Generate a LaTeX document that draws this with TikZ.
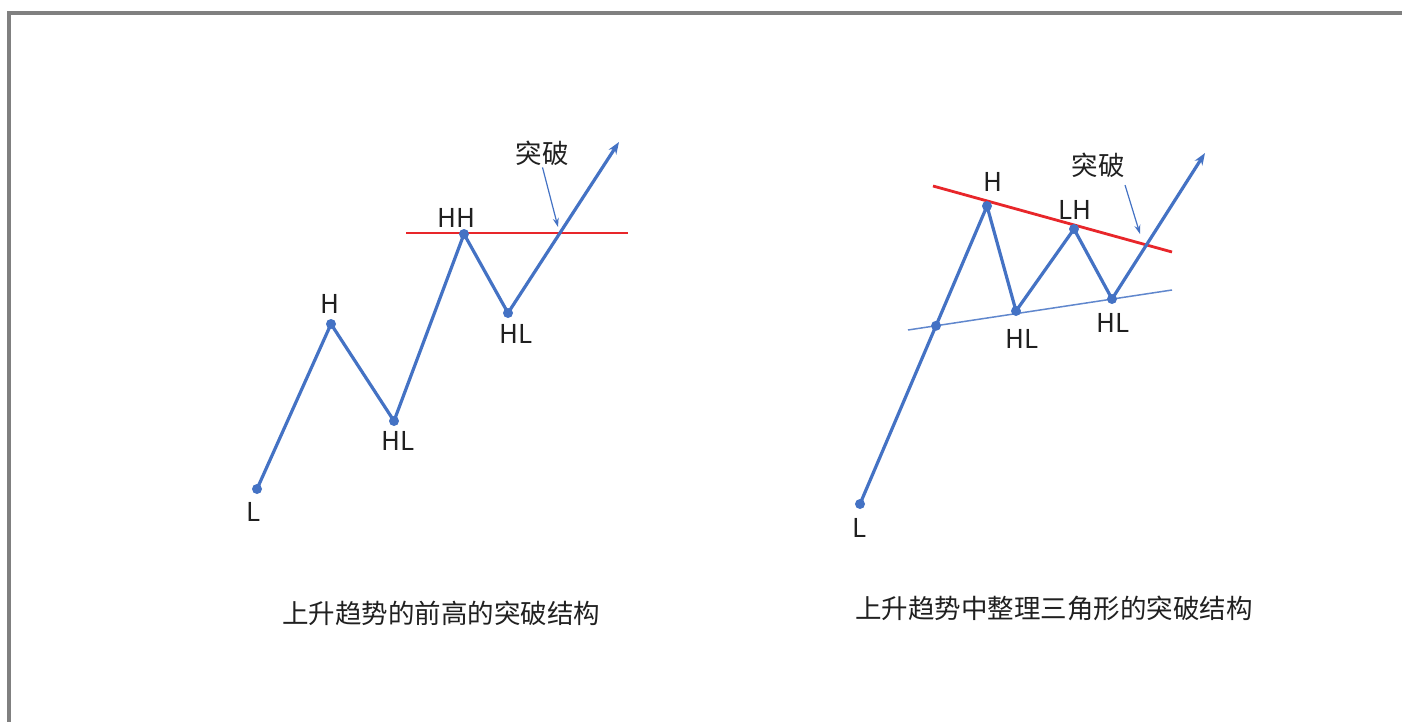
\documentclass[tikz,border=0pt]{standalone}
\usepackage{fontspec}
\setmainfont{Noto Sans CJK SC}
\usetikzlibrary{arrows.meta}
\definecolor{trendblue}{HTML}{4472C4}
\definecolor{resred}{HTML}{E8262A}
\definecolor{framegray}{HTML}{808080}
\definecolor{txt}{HTML}{202020}
\pgfdeclarelayer{bg}
\pgfdeclarelayer{paper}
\pgfsetlayers{paper,bg,main}
\tikzset{
 pt/.style={circle, fill=trendblue, inner sep=0pt, minimum size=10pt},
 lbl/.style={text=txt, font=\fontsize{26}{30}\selectfont, inner sep=0pt},
 captext/.style={text=txt, font=\fontsize{26.5}{30}\selectfont, inner sep=0pt},
 wave/.style={draw=trendblue, line width=3.2pt, line join=round, line cap=round},
 resline/.style={draw=resred, line width=2.8pt},
 suppline/.style={draw=trendblue!85, line width=1.5pt},
 callout/.style={draw=trendblue, line width=1.2pt, -{Stealth[length=9pt,width=6pt]}},
 breakout/.style={wave, -{Stealth[length=12pt,width=9pt]}},
}
\begin{document}
\begin{tikzpicture}[x=1pt,y=-1pt]
\useasboundingbox (0,0) rectangle (1402,722);
\begin{pgfonlayer}{paper}
\fill[white] (0,0) rectangle (1402,722);
\end{pgfonlayer}
% frame
\draw[framegray, line width=4pt] (1402,13) -- (9,13) -- (9,722);

% ---------- left chart ----------
\node[pt] (aL)  at (257,489) {};
\node[pt] (aH)  at (331,324) {};
\node[pt] (aHL) at (394,421) {};
\node[pt] (aHH) at (464,234) {};
\node[pt] (aHL2) at (508,313) {};
\coordinate (aTip) at (619,142);
\coordinate (aR1) at (406,233);
\coordinate (aR2) at (628,233);
\coordinate (aCross) at (558,227);

\node[lbl] (laL)  at (254,512) {L};
\node[lbl] (laH)  at (330,304) {H};
\node[lbl] (laHL) at (398,441) {HL};
\node[lbl] (laHH) at (456,218) {HH};
\node[lbl] (laHL2) at (516,334) {HL};
\node[captext] (tuL) at (542,153) {突破};

\begin{pgfonlayer}{bg}
\draw[resline] (aR1) -- (aR2);
\draw[wave] (aL.center) -- (aH.center) -- (aHL.center) -- (aHH.center) -- (aHL2.center);
\draw[breakout] (aHL2.center) -- (aTip);
\end{pgfonlayer}
\draw[callout, shorten <=2pt] (tuL.south) -- (aCross);

\node[captext] (capL) at (441,613) {上升趋势的前高的突破结构};

% ---------- right chart ----------
\coordinate (bS1) at (908,330);
\coordinate (bS2) at (1172,290);
\coordinate (bR1) at (933,186);
\coordinate (bR2) at (1172,252);
\node[pt] (bL)  at (860,504) {};
\node[pt] (bH)  at (987,206) {};
\node[pt] (bX)  at (intersection of bL--bH and bS1--bS2) {};
\node[pt] (bHL) at (1016,311) {};
\node[pt] (bLH) at (1074,229) {};
\node[pt] (bHL2) at (1112,299) {};
\coordinate (bTip) at (1205,153);
\coordinate (bCross) at (1140,234);

\node[lbl] (lbL)  at (860,528) {L};
\node[lbl] (lbH)  at (993,182) {H};
\node[lbl] (lbHL) at (1022,339) {HL};
\node[lbl] (lbLH) at (1075,210) {LH};
\node[lbl] (lbHL2) at (1113,323) {HL};
\node[captext] (tuR) at (1098,165) {突破};

\begin{pgfonlayer}{bg}
\draw[suppline] (bS1) -- (bS2);
\draw[resline] (bR1) -- (bR2);
\draw[wave] (bL.center) -- (bH.center) -- (bHL.center) -- (bLH.center) -- (bHL2.center);
\draw[breakout] (bHL2.center) -- (bTip);
\end{pgfonlayer}
\draw[callout, shorten <=8pt] ([xshift=-2pt]tuR.south east) -- (bCross);

\node[captext] (capR) at (1054,608) {上升趋势中整理三角形的突破结构};
\end{tikzpicture}
\end{document}
